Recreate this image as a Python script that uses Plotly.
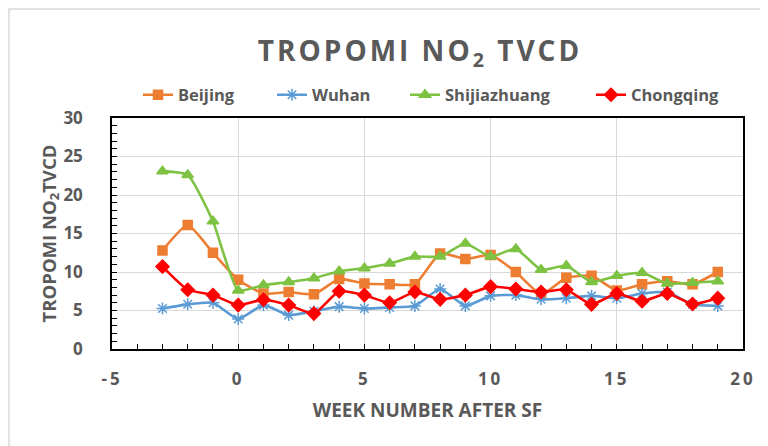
import plotly.graph_objects as go

weeks = list(range(-3, 20))
beijing = [12.8, 16.1, 12.5, 9.0, 7.2, 7.4, 7.1, 9.1, 8.5, 8.4, 8.4, 12.4, 11.7, 12.2, 10.0, 7.1, 9.25, 9.5, 7.6, 8.4, 8.8, 8.4, 10.0]
wuhan = [5.25, 5.8, 6.0, 3.9, 5.7, 4.4, 4.9, 5.5, 5.25, 5.4, 5.6, 7.8, 5.6, 6.9, 7.0, 6.45, 6.6, 6.9, 6.6, 7.2, 7.4, 5.8, 5.6]
shijiazhuang = [23.1, 22.6, 16.6, 7.6, 8.3, 8.7, 9.2, 10.1, 10.5, 11.1, 12.0, 12.0, 13.7, 12.0, 13.0, 10.3, 10.8, 8.7, 9.5, 9.9, 8.5, 8.6, 8.8]
chongqing = [10.7, 7.7, 7.0, 5.7, 6.4, 5.7, 4.6, 7.5, 7.0, 6.0, 7.4, 6.45, 7.0, 8.1, 7.8, 7.4, 7.7, 5.8, 7.2, 6.2, 7.2, 5.85, 6.6]

x_tick_vals = [-5, 0, 5, 10, 15, 20]
x_tick_text = ["-5", "0", "5", "10", "15", "20"]

series = [
    ("Beijing", beijing, "#ED7D31", "square", 9),
    ("Wuhan", wuhan, "#5B9BD5", "asterisk-open", 10),
    ("Shijiazhuang", shijiazhuang, "#7DC242", "triangle-up", 10),
    ("Chongqing", chongqing, "#FF0000", "diamond", 10),
]

GRAY = "#595959"
FONT = "Open Sans"

# figure geometry (paper pixels); page body adds an 8px offset
W, H = 760, 438
ML, MR, MT, MB = 104, 25, 110, 97
PW, PH = W - ML - MR, H - MT - MB

legend_names = ["legend", "legend2", "legend3", "legend4"]
legend_text_x = [172, 306, 439, 625]

fig = go.Figure()
for (name, vals, color, sym, size), lg in zip(series, legend_names):
    fig.add_trace(go.Scatter(
        x=weeks, y=vals, name=name, mode="lines+markers", legend=lg,
        line=dict(color=color, width=2.6, shape="spline", smoothing=0.5),
        marker=dict(symbol=sym, size=size, color=color,
                    line=dict(color=color, width=1.5)),
    ))

axis_common = dict(
    showline=True, linecolor="black", linewidth=1.5, mirror=True,
    showgrid=True, gridcolor="#D9D9D9", gridwidth=1.2,
    zeroline=False,
    ticks="inside", ticklen=5, tickcolor="black",
    tickfont=dict(family=FONT, size=17, color=GRAY, weight="bold"),
)

fig.update_xaxes(
    range=[-5, 20], tickmode="array", tickvals=x_tick_vals, ticktext=x_tick_text,
    minor=dict(dtick=1, tick0=0, ticks="inside", ticklen=5, tickcolor="black", showgrid=False),
    ticklabelstandoff=14,
    title=dict(text="WEEK NUMBER AFTER SF", standoff=15,
               font=dict(family=FONT, size=19, color=GRAY, weight="bold")),
    **axis_common,
)
fig.update_yaxes(
    range=[0, 30], dtick=5,
    minor=dict(dtick=1, ticks="inside", ticklen=5, tickcolor="black", showgrid=False),
    ticklabelstandoff=24,
    title=dict(text="TROPOMI NO<sub>2</sub>TVCD", standoff=0,
               font=dict(family=FONT, size=18.5, color=GRAY, weight="bold")),
    **axis_common,
)

legend_layout = {}
for lg, tx in zip(legend_names, legend_text_x):
    legend_layout[lg] = dict(
        orientation="h", x=(tx - 42 - ML) / PW, xanchor="left",
        y=(H - MB - 87) / PH, yanchor="middle",
        font=dict(family=FONT, size=16.5, color=GRAY, weight="bold"),
        bgcolor="rgba(0,0,0,0)", borderwidth=0,
    )

fig.update_layout(
    width=W, height=H,
    margin=dict(l=ML, r=MR, t=MT, b=MB),
    paper_bgcolor="white", plot_bgcolor="white",
    title=dict(text="TROPOMI NO<sub>2</sub> TVCD", x=412 / W, xanchor="center",
               y=1 - 43 / H, yanchor="middle",
               font=dict(family=FONT, size=28, color=GRAY, weight="bold")),
    showlegend=True,
    shapes=[dict(type="rect", xref="paper", yref="paper",
                 x0=(1 - ML) / PW, x1=(775 - ML) / PW,
                 y0=(H - MB - 460) / PH, y1=(H - MB - 1) / PH,
                 line=dict(color="#D9D9D9", width=1.5), layer="below")],
    **legend_layout,
)

post = """
var gd = document.querySelector('.plotly-graph-div');
gd.querySelectorAll('.gtitle').forEach(function(e){ e.style.letterSpacing = '3px'; });
gd.querySelectorAll('.xtick text').forEach(function(e){ e.style.letterSpacing = '3px'; });
"""

fig.write_html("out.html", post_script=post)
